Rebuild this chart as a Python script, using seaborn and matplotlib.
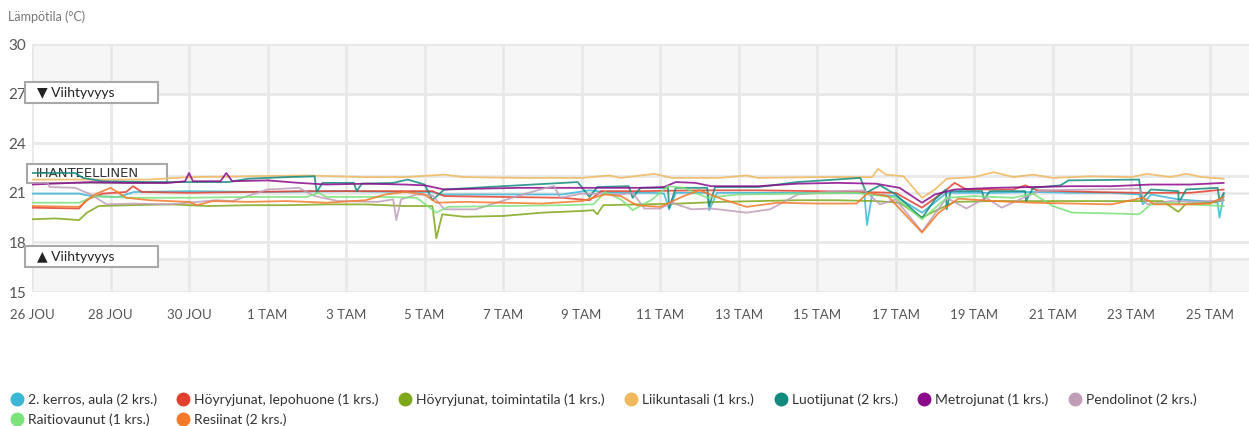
import numpy as np
import pandas as pd
import seaborn as sns
import matplotlib.pyplot as plt
from matplotlib.patches import Rectangle
from matplotlib.lines import Line2D

# days since 26 JOU, temperature in C
aula = [(0, 20.95), (1.2, 20.95), (1.5, 20.8), (2.2, 20.75), (2.6, 21.05), (4, 21.1), (6, 21.05),
        (8, 21.1), (9.5, 21.05), (10.2, 21.05), (10.4, 20.9), (12, 20.9), (13.5, 20.9), (14.2, 21.15),
        (14.8, 21.0), (15.8, 21.0), (16.1, 20.95), (16.23, 20.0), (16.4, 21.0), (17.2, 21.0),
        (17.25, 19.95), (17.45, 21.0), (18.5, 21.0), (20, 21.0), (21.2, 21.0), (21.27, 19.05),
        (21.4, 20.9), (22.0, 20.8), (22.67, 19.8), (23.3, 21.0), (24.5, 21.0), (25.5, 21.05),
        (26.5, 21.0), (27.5, 21.0), (28.2, 20.9), (28.3, 20.3), (28.5, 20.9), (29.2, 20.6),
        (29.8, 20.5), (30.2, 20.4), (30.25, 19.5), (30.36, 20.95)]
lepohuone = [(0, 20.1), (1.2, 20.05), (1.4, 20.6), (1.8, 20.95), (2.4, 21.05), (2.57, 21.4),
             (2.8, 21.05), (4, 21.0), (5.5, 21.05), (7, 21.1), (8.5, 21.1), (9.8, 21.1), (10.2, 21.1),
             (10.5, 20.8), (12, 20.75), (13.5, 20.7), (14.2, 20.55), (14.5, 21.1), (15.5, 21.1),
             (17, 21.15), (18.5, 21.15), (20, 21.1), (21, 21.05), (22, 21.0), (22.67, 20.1),
             (23.3, 21.2), (23.5, 21.6), (23.8, 21.2), (25, 21.2), (25.3, 21.45), (25.6, 21.15),
             (27, 21.05), (28.2, 21.0), (29.5, 21.0), (30.36, 21.2)]
toimintatila = [(0, 19.4), (0.6, 19.45), (1.2, 19.35), (1.4, 19.8), (1.7, 20.2), (2.5, 20.25),
                (3.5, 20.3), (4.5, 20.2), (5.5, 20.25), (6.5, 20.25), (7.5, 20.3), (8.5, 20.3),
                (9.5, 20.2), (10.2, 20.2), (10.3, 18.25), (10.45, 19.7), (11.0, 19.55), (12, 19.6),
                (13, 19.8), (14, 19.9), (14.3, 19.95), (14.4, 19.7), (14.55, 20.25), (15.5, 20.3),
                (16.5, 20.35), (17.5, 20.45), (18.5, 20.5), (19.5, 20.55), (20.5, 20.55), (21.5, 20.5),
                (22.1, 20.4), (22.67, 19.5), (23.0, 19.9), (23.5, 20.45), (24.5, 20.5), (25.5, 20.5),
                (26.5, 20.5), (27.5, 20.5), (28.8, 20.5), (29.2, 19.85), (29.4, 20.35), (30, 20.4),
                (30.36, 20.55)]
liikuntasali = [(0, 21.8), (1.5, 21.8), (3, 21.8), (4, 21.95), (5.5, 22.0), (7, 22.05), (8.5, 21.95),
                (9.5, 21.95), (10.5, 22.1), (11, 21.95), (12.5, 21.9), (14, 21.9), (14.7, 22.05),
                (15, 21.9), (15.85, 22.15), (16.3, 21.9), (17.5, 21.9), (18.2, 22.05), (18.5, 21.9),
                (20, 21.95), (21, 21.95), (21.4, 21.95), (21.55, 22.45), (21.75, 22.1), (22.2, 22.0),
                (22.67, 20.7), (23.0, 21.2), (23.3, 21.85), (24, 21.95), (24.5, 22.25), (25, 21.95),
                (25.5, 22.1), (26, 21.9), (27, 22.0), (28, 21.95), (28.4, 22.15), (29, 21.95),
                (29.4, 22.15), (29.8, 21.95), (30.36, 21.85)]
luotijunat = [(0, 22.2), (1.1, 22.2), (1.3, 21.9), (1.8, 21.7), (3, 21.65), (5, 21.65), (5.5, 21.85),
              (6.5, 21.95), (7.2, 22.0), (7.25, 21.05), (7.4, 21.6), (8.2, 21.6), (8.27, 21.1),
              (8.4, 21.55), (9.2, 21.6), (9.57, 21.8), (10.0, 21.5), (10.2, 20.56), (10.5, 21.2),
              (12, 21.4), (13.9, 21.65), (14.2, 20.75), (14.4, 21.35), (15.2, 21.4), (15.3, 20.7),
              (15.5, 21.3), (16.2, 21.3), (16.23, 20.1), (16.4, 21.3), (17.2, 21.3), (17.25, 20.2),
              (17.4, 21.35), (18.5, 21.35), (19.5, 21.65), (21.1, 21.9), (21.25, 21.0), (21.6, 21.45),
              (22.0, 20.9), (22.67, 19.47), (23.0, 20.6), (23.28, 21.2), (23.3, 20.0), (23.4, 21.1),
              (24.2, 21.1), (24.25, 20.6), (24.4, 21.1), (25.3, 21.1), (25.32, 20.5), (25.5, 21.3),
              (26.2, 21.45), (26.4, 21.75), (28.2, 21.8), (28.27, 20.6), (28.5, 21.2), (29.2, 21.1),
              (29.21, 20.4), (29.4, 21.2), (30.2, 21.3), (30.25, 20.5), (30.36, 21.0)]
metrojunat = [(0, 21.5), (0.5, 21.55), (1.5, 21.65), (2.5, 21.6), (3.5, 21.6), (3.9, 21.7), (4.0, 22.2),
              (4.1, 21.7), (4.8, 21.7), (4.95, 22.2), (5.1, 21.7), (6, 21.75), (6.8, 21.6), (7.5, 21.5),
              (8.5, 21.55), (9.5, 21.5), (10, 21.45), (10.5, 21.2), (11.4, 21.25), (12.4, 21.3),
              (13.5, 21.3), (14.5, 21.3), (15.5, 21.3), (16.1, 21.35), (16.4, 21.65), (16.9, 21.6),
              (17.3, 21.4), (18.5, 21.4), (19.5, 21.55), (20.5, 21.6), (21.5, 21.55), (22.1, 21.3),
              (22.67, 20.4), (23.0, 20.9), (23.5, 21.2), (24.5, 21.3), (25.5, 21.35), (26.5, 21.4),
              (27.5, 21.4), (28.5, 21.5), (29.5, 21.5), (30.36, 21.6)]
pendolinot = [(0, 21.6), (0.4, 21.6), (0.45, 21.35), (1.1, 21.3), (1.5, 20.9), (1.9, 20.3), (2.6, 20.35),
              (3.5, 20.3), (4.7, 20.55), (5.1, 20.5), (6.0, 21.2), (6.8, 21.3), (7.2, 20.8), (7.8, 20.5),
              (8.8, 20.45), (9.2, 20.6), (9.28, 19.35), (9.4, 20.6), (9.8, 20.9), (10.2, 20.85),
              (10.5, 20.0), (11.3, 20.0), (12.5, 20.9), (13.1, 21.3), (13.3, 21.4), (13.45, 20.7),
              (14.0, 20.95), (14.5, 20.95), (15.0, 20.9), (15.3, 21.0), (15.6, 20.05), (16.0, 20.05),
              (16.3, 20.4), (16.8, 20.0), (17.3, 20.05), (18.2, 19.8), (18.8, 20.0), (19.5, 20.9),
              (20.5, 21.1), (21.2, 21.15), (21.6, 20.3), (22.0, 20.6), (22.67, 18.65), (23.3, 20.7),
              (23.8, 20.05), (24.3, 20.7), (24.7, 20.1), (25.3, 20.75), (25.7, 21.15), (27, 21.2),
              (28.2, 21.25), (28.4, 20.3), (29.0, 20.5), (29.6, 20.45), (30.36, 20.55)]
raitiovaunut = [(0, 20.4), (1.2, 20.4), (1.6, 20.8), (2.5, 20.7), (4, 20.7), (5.5, 20.75), (7, 20.75),
                (7.3, 21.0), (7.5, 20.75), (9, 20.75), (9.8, 20.7), (10.3, 19.8), (10.6, 20.15),
                (12, 20.2), (13.5, 20.25), (14.3, 20.3), (14.6, 21.05), (15, 20.6), (15.3, 19.95),
                (15.8, 20.6), (16.2, 21.4), (16.6, 21.3), (17.2, 20.7), (18, 20.9), (19.5, 20.95),
                (21, 21.0), (21.5, 20.85), (22.0, 20.7), (22.67, 19.4), (23.3, 20.7), (24, 20.8),
                (25, 20.7), (25.5, 20.95), (26, 20.2), (26.5, 19.8), (27.5, 19.75), (28.2, 19.7),
                (28.5, 20.3), (29, 20.4), (29.5, 20.3), (30.36, 20.2)]
resiinat = [(0, 20.2), (1.2, 20.15), (1.6, 20.9), (2.0, 21.3), (2.4, 20.7), (3.0, 20.55), (4, 20.45),
            (4.2, 20.25), (4.6, 20.5), (5.5, 20.45), (6.5, 20.5), (7.5, 20.4), (8.5, 20.55), (9.0, 20.9),
            (9.5, 21.05), (10.0, 20.9), (10.3, 20.4), (11, 20.45), (12, 20.4), (13, 20.35), (14, 20.5),
            (14.6, 20.9), (15.0, 20.8), (15.4, 20.25), (16, 20.15), (16.6, 20.8), (17.0, 21.15),
            (17.6, 20.6), (18.2, 20.15), (19, 20.4), (20, 20.35), (21, 20.35), (21.3, 21.0), (21.8, 20.8),
            (22.67, 18.6), (23.1, 19.8), (23.6, 20.65), (24.5, 20.5), (25.5, 20.4), (26.5, 20.35),
            (27.5, 20.3), (28.3, 20.7), (28.6, 20.3), (29.5, 20.3), (30, 20.35), (30.36, 20.75)]

names = ['2. kerros, aula (2 krs.)', 'Höyryjunat, lepohuone (1 krs.)', 'Höyryjunat, toimintatila (1 krs.)',
         'Liikuntasali (1 krs.)', 'Luotijunat (2 krs.)', 'Metrojunat (1 krs.)', 'Pendolinot (2 krs.)',
         'Raitiovaunut (1 krs.)', 'Resiinat (2 krs.)']
series = [aula, lepohuone, toimintatila, liikuntasali, luotijunat, metrojunat, pendolinot, raitiovaunut, resiinat]
colors = ['#3cb6d6', '#e2402e', '#7fa71a', '#f1b85e', '#138a7e', '#8b0a8b', '#c09cb9', '#7ce27a', '#f5792a']

xtick_days = list(range(0, 31, 2))
xtick_labels = ['26 JOU', '28 JOU', '30 JOU', '1 TAM', '3 TAM', '5 TAM', '7 TAM', '9 TAM', '11 TAM',
                '13 TAM', '15 TAM', '17 TAM', '19 TAM', '21 TAM', '23 TAM', '25 TAM']
yticks = [15, 18, 21, 24, 27, 30]

rows = []
for name, pts in zip(names, series):
    for d, t in pts:
        rows.append({'day': d, 'temp': t, 'sensor': name})
df = pd.DataFrame(rows)

sns.set_style('white')
plt.rcParams['font.family'] = ['Lato', 'DejaVu Sans']

fig = plt.figure(figsize=(12.49, 4.26), dpi=100)
ax = fig.add_axes([32 / 1249, 134 / 426, 1217 / 1249, 248 / 426])

grid_c = '#e8e8e8'
ax.axhspan(27, 30, color='#f6f6f6', zorder=0, lw=0)
ax.axhspan(15, 17, color='#f6f6f6', zorder=0, lw=0)
for y in yticks + [17, 22]:
    ax.axhline(y, color=grid_c, lw=2, zorder=0.5)
for x in xtick_days:
    ax.axvline(x, color=grid_c, lw=2, zorder=0.5)

# comfort boxes
box_kw = dict(facecolor='white', edgecolor='#a8a8a8', lw=1.5, clip_on=False, zorder=1.5)
ax.add_patch(Rectangle((-0.18, 26.43), 3.38, 1.27, **box_kw))
ax.add_patch(Rectangle((-0.13, 21.59), 3.57, 1.15, **box_kw))
ax.add_patch(Rectangle((-0.18, 16.51), 3.38, 1.27, **box_kw))
txt_kw = dict(fontsize=10, color='#222222', va='center', ha='left', zorder=1.6)
ax.text(0.13, 27.05, '▼ Viihtyvyys', **txt_kw)
ax.text(0.1, 22.14, 'IHANTEELLINEN', **dict(txt_kw, fontsize=9.5, family='DejaVu Sans', color='#333333'))
ax.text(0.13, 17.13, '▲ Viihtyvyys', **txt_kw)

sns.lineplot(data=df, x='day', y='temp', hue='sensor', palette=dict(zip(names, colors)),
             hue_order=names, sort=False, estimator=None, legend=False, lw=1.3, alpha=0.85,
             ax=ax, zorder=2)

ax.set_xlim(0, 31)
ax.set_ylim(15, 30)
ax.set_xticks(xtick_days)
ax.set_xticklabels(xtick_labels)
ax.set_yticks(yticks)
ax.tick_params(axis='x', length=3, width=2, color=grid_c, pad=9, labelsize=9.5, labelcolor='#555555')
ax.tick_params(axis='y', length=0, pad=4, labelsize=11, labelcolor='#555555')
ax.set_xlabel('')
ax.set_ylabel('')
for s in ax.spines.values():
    s.set_visible(False)

fig.text(8 / 1249, 1 - 17 / 426, 'Lämpötila (°C)', fontsize=9, color='#777777', va='center')

# legend is filled column by column, so reorder to get 7 items on the first row
order = [0, 7, 1, 8, 2, 3, 4, 5, 6]
handles = [Line2D([], [], ls='none', marker='o', ms=9, color=colors[i]) for i in order]
labels = [names[i] for i in order]
fig.legend(handles, labels, loc='upper left', bbox_to_anchor=(11 / 1249, 1 - 393 / 426), ncol=7,
           frameon=False, fontsize=10, handlelength=0.8, handletextpad=0.4, columnspacing=1.5,
           labelspacing=0.55, borderaxespad=0, borderpad=0, labelcolor='#333333')

fig.savefig('out.png', dpi=100)
